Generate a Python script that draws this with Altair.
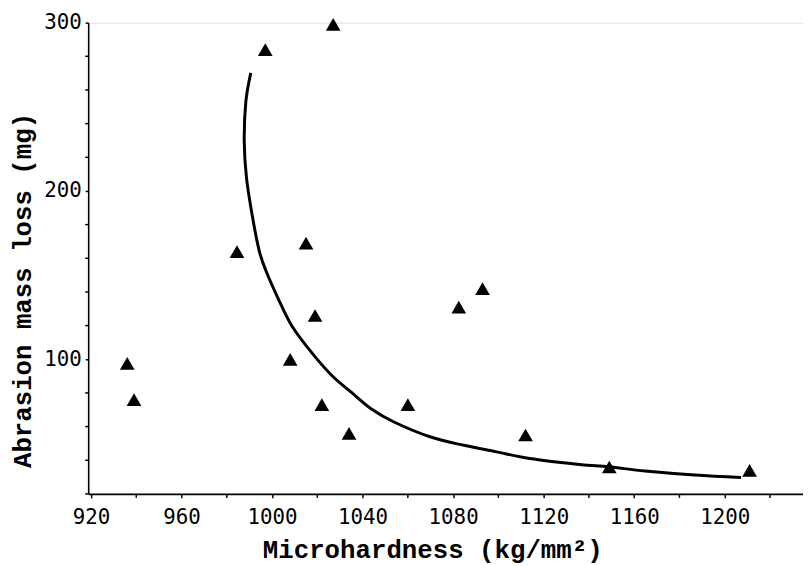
import altair as alt
import pandas as pd

# Measured data points (microhardness kg/mm^2, abrasion mass loss mg)
hardness = [997, 1027, 984.5, 1015, 1019, 1008, 936, 939, 1022, 1034, 1060, 1082.5, 1093, 1112, 1149, 1211]
mass_loss = [284, 299, 164, 169, 126, 100, 97.5, 76, 73, 56, 73, 131, 142, 55, 36, 34]

# Fitted curve (traced)
curve_x = [990.6, 988.4, 987.7, 988.7, 991.4, 994.3, 997.2, 1003.0, 1008.9, 1017.6, 1026.4,
           1035.1, 1043.9, 1054.1, 1070.1, 1084.7, 1099.3, 1113.9, 1135.7, 1148.8, 1164.9,
           1186.8, 1207.2]
curve_y = [270.2, 252.9, 229.4, 207.8, 184.2, 164.6, 152.9, 135.2, 119.5, 103.8, 90.4,
           80.3, 70.5, 62.6, 53.8, 48.9, 45.0, 41.0, 37.5, 36.1, 33.6, 31.2, 29.7]

# Axis ticks
x_major = [920, 960, 1000, 1040, 1080, 1120, 1160, 1200]
x_minor = [940, 980, 1020, 1060, 1100, 1140, 1180, 1220]
y_major = [100, 200, 300]
y_minor = [20, 40, 60, 80, 120, 140, 160, 180, 220, 240, 260, 280]

W, H = 722, 476

pts = pd.DataFrame({"x": hardness, "y": mass_loss})
crv = pd.DataFrame({"x": curve_x, "y": curve_y, "i": list(range(len(curve_x)))})
xm = pd.DataFrame({"x": x_minor})
ym = pd.DataFrame({"y": y_minor})

xscale = alt.Scale(domain=[918.75, 1234.6], nice=False, zero=False)
yscale = alt.Scale(domain=[20, 300], nice=False, zero=False)

xaxis = alt.Axis(
    title="Microhardness (kg/mm²)", values=x_major,
    format="d", grid=False, tickSize=4, tickWidth=1.5, tickColor="black",
    domainColor="black", domainWidth=1.6, labelFont="DejaVu Sans Mono",
    labelFontSize=21, labelColor="black", labelPadding=9,
    labelOverlap=False, labelFlush=False,
    titleFont="Liberation Mono", titleFontSize=26, titleFontWeight="bold",
    titleColor="black", titleX=347.5, titleY=64, titleAlign="center",
    titleBaseline="alphabetic", titleAnchor="middle",
)
yaxis = alt.Axis(
    title="Abrasion mass loss (mg)", values=y_major,
    format="d", grid=False, tickSize=3, tickWidth=1.5, tickColor="black",
    domainColor="black", domainWidth=1.6, labelFont="DejaVu Sans Mono",
    labelFontSize=21, labelColor="black", labelPadding=4,
    labelOverlap=False, labelFlush=False,
    titleFont="Liberation Mono", titleFontSize=26, titleFontWeight="bold",
    titleColor="black", titleAngle=270, titleX=-58, titleY=270,
    titleAlign="center", titleBaseline="alphabetic",
)

points = alt.Chart(pts).mark_point(
    shape="triangle-up", filled=True, color="black", size=220, opacity=1
).encode(
    x=alt.X("x:Q", scale=xscale, axis=xaxis),
    y=alt.Y("y:Q", scale=yscale, axis=yaxis),
)

line = alt.Chart(crv).mark_line(color="black", strokeWidth=3, interpolate="cardinal").encode(
    x=alt.X("x:Q", scale=xscale),
    y=alt.Y("y:Q", scale=yscale),
    order="i:Q",
)

xminor = alt.Chart(xm).mark_rule(color="black", strokeWidth=1.5).encode(
    x=alt.X("x:Q", scale=xscale),
    y=alt.value(H),
    y2=alt.value(H + 4),
)
yminor = alt.Chart(ym).mark_rule(color="black", strokeWidth=1.5).encode(
    y=alt.Y("y:Q", scale=yscale),
    x=alt.value(-3),
    x2=alt.value(0),
)

chart = alt.layer(line, points, xminor, yminor).properties(
    width=W, height=H,
    autosize=alt.AutoSizeParams(type="none"),
    padding={"left": 81, "top": 12, "right": 0, "bottom": 70},
).configure_view(stroke=None).configure(background="white")

chart.save("out.html", embed_options={"renderer": "svg", "actions": False})
